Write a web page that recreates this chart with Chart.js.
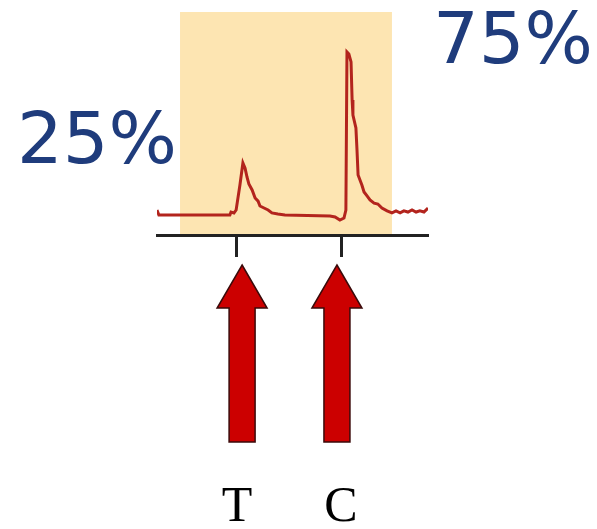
<!DOCTYPE html>
<html>
<head>
<meta charset="utf-8">
<script src="https://cdn.jsdelivr.net/npm/chart.js"></script>
<style>
  body { margin: 0; background: #fff; }
  #wrap { width: 597px; height: 529px; }
</style>
</head>
<body>
<div id="wrap"><canvas id="myChart" width="597" height="529"></canvas></div>
<script>
// trace of the chromatogram (x = position, y = signal)
const traceX = [0, 0.7, 26.9, 27.3, 28.4, 29.2, 30.6, 31.7, 32.5, 33.2, 33.9, 35.1, 36.2, 37.3, 38.0, 39.5, 41.0, 42.4, 44.6, 47.2,
  63.8, 65.7, 67.5, 69.0, 69.7, 70.1, 70.8, 71.6, 72.0, 72.3, 73.4, 73.8, 74.2, 74.9, 75.6, 76.4, 77.5, 78.6, 80.1, 81.5,
  83.0, 84.9, 86.7, 88.2, 89.7, 91.1, 92.6, 94.1, 95.6, 97.0, 98.5, 100];
const traceY = [11.2, 9.0, 9.0, 10.3, 9.9, 11.2, 22.4, 32.3, 30.0, 26.0, 22.9, 20.2, 16.6, 15.2, 13.0, 12.1, 11.2, 9.9, 9.4, 9.0,
  8.5, 8.1, 6.7, 7.6, 11.2, 82.1, 81.2, 77.6, 60.5, 53.8, 48.0, 38.1, 26.9, 24.7, 22.4, 19.3, 17.5, 15.7, 14.3, 13.9,
  12.1, 10.8, 9.9, 10.8, 9.9, 10.8, 10.3, 11.2, 10.3, 10.8, 10.3, 12.1];

// bases marked under the trace
const tickLabels = ['T', 'C'];
const tickValues = [29.5, 67.9];
const arrowValues = [31.4, 66.4];
const peakLabels = ['25%', '75%'];

// shaded window
const windowStart = 8.5;
const windowEnd = 86.7;

const points = traceX.map((x, i) => ({x: x, y: traceY[i]}));

const decorPlugin = {
  id: 'decor',
  beforeDraw(chart) {
    const ctx = chart.ctx;
    const xs = chart.scales.x;
    const area = chart.chartArea;
    const x0 = xs.getPixelForValue(windowStart);
    const x1 = xs.getPixelForValue(windowEnd);
    ctx.save();
    ctx.fillStyle = '#fde5b2';
    ctx.fillRect(x0, area.top, x1 - x0, area.bottom - area.top);
    ctx.restore();
  },
  afterDraw(chart) {
    const ctx = chart.ctx;
    const xs = chart.scales.x;
    const base = chart.chartArea.bottom;
    ctx.save();
    // arrows
    arrowValues.forEach(v => {
      const cx = xs.getPixelForValue(v);
      ctx.beginPath();
      ctx.moveTo(cx, base + 30);
      ctx.lineTo(cx + 25, base + 73);
      ctx.lineTo(cx + 13, base + 73);
      ctx.lineTo(cx + 13, base + 207);
      ctx.lineTo(cx - 13, base + 207);
      ctx.lineTo(cx - 13, base + 73);
      ctx.lineTo(cx - 25, base + 73);
      ctx.closePath();
      ctx.fillStyle = '#cc0000';
      ctx.fill();
      ctx.lineWidth = 1.5;
      ctx.strokeStyle = '#3a0a0a';
      ctx.stroke();
    });
    // percentages
    ctx.fillStyle = '#1f3c7c';
    ctx.font = '72px "DejaVu Sans"';
    ctx.textBaseline = 'alphabetic';
    ctx.textAlign = 'left';
    ctx.fillText(peakLabels[0], 17, 163);
    ctx.fillText(peakLabels[1], 433, 63);
    ctx.restore();
  }
};

const myChart = document.getElementById('myChart');

let traceChart = new Chart(myChart, {
  type: 'line',
  data: {
    datasets: [{
      data: points,
      borderColor: '#b3241d',
      borderWidth: 3,
      pointRadius: 0,
      tension: 0,
      fill: false
    }]
  },
  options: {
    responsive: false,
    animation: false,
    layout: {
      padding: {left: 157, right: 169, top: 12, bottom: 0}
    },
    plugins: {
      legend: {display: false},
      tooltip: {enabled: false}
    },
    scales: {
      x: {
        type: 'linear',
        min: 0,
        max: 100,
        afterBuildTicks: s => { s.ticks = tickValues.map(v => ({value: v})); },
        afterFit: s => {
          s.height = 294;
          s.paddingLeft = 0;
          s.paddingRight = 0;
        },
        ticks: {
          callback: (v, i) => tickLabels[i],
          color: '#000',
          font: {family: '"Liberation Serif"', size: 50},
          padding: 221,
          maxRotation: 0
        },
        grid: {
          drawOnChartArea: false,
          drawTicks: true,
          tickLength: 22,
          tickColor: '#222',
          tickWidth: 3
        },
        border: {display: true, color: '#222', width: 3}
      },
      y: {
        display: false,
        min: 0,
        max: 100
      }
    }
  },
  plugins: [decorPlugin]
});
</script>
</body>
</html>
